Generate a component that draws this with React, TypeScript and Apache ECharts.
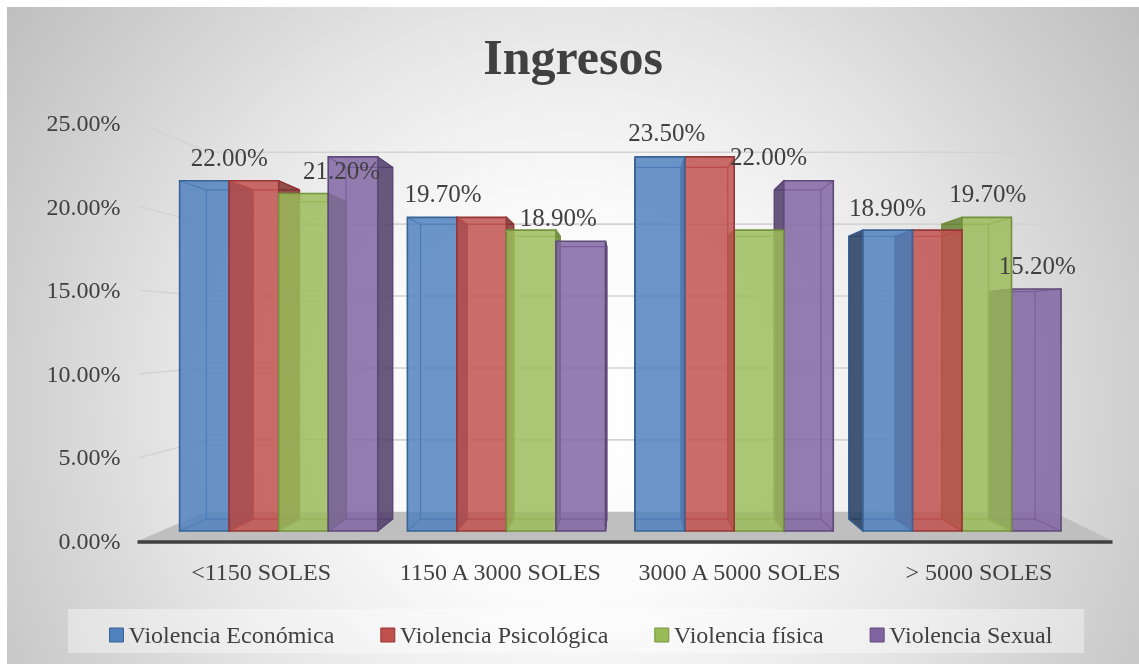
import React, { useEffect, useRef } from "react";
import * as echarts from "echarts";

// ---------- data ----------
const categories = ["<1150 SOLES", "1150 A 3000 SOLES", "3000 A 5000 SOLES", "> 5000 SOLES"];
const seriesNames = ["Violencia Económica", "Violencia Psicológica", "Violencia física", "Violencia Sexual"];
const economica = [22.0, 19.7, 23.5, 18.9];
const psicologica = [22.0, 19.7, 23.5, 18.9];
const fisica = [21.2, 18.9, 18.9, 19.7];
const sexual = [23.5, 18.2, 22.0, 15.2];
const yTicks = [0, 5, 10, 15, 20, 25];
// data labels visible in the original (the others are hidden behind bars)
const labelShown = [
  [true, true, true, true],
  [false, false, false, false],
  [true, true, false, true],
  [false, false, true, true],
];

// ---------- styles ----------
const SERIES_VALUES = [economica, psicologica, fisica, sexual];
const COLORS = ["#4F81BD", "#C0504D", "#9BBB59", "#8064A2"];
const FILLS = ["rgba(79,129,189,0.84)", "rgba(192,80,77,0.84)", "rgba(155,187,89,0.84)", "rgba(128,100,162,0.84)"];
const BORDERS = ["#3A6396", "#953735", "#76923C", "#5F497A"];
const SIDES = ["rgba(35,60,95,0.85)", "rgba(120,40,38,0.8)", "rgba(95,125,45,0.8)", "rgba(80,60,105,0.85)"];
// label shift [dx, dy] relative to bar top center (Excel's placement)
const LABEL_SHIFT = [
  [[25, -23], [11, -24], [7, -24], [0, -23]],
  [[0, -24], [0, -24], [0, -24], [0, -24]],
  [[38, -23], [27, -13], [0, -24], [1, -24]],
  [[0, -24], [0, -24], [-40, -24], [1, -24]],
];
const VP_X = 0.507; // vanishing point (fraction of grid)
const VP_Y = 0.5;
const K_FRONT = 0.952;
const K_BACK = 0.895;
const K_WALL = 0.86;
const BAR_FRAC = 0.2175;
const TEXT = "#404040";
const FONT = "Liberation Serif";

function vp(cs: any) {
  return [cs.x + cs.width * VP_X, cs.y + cs.height * VP_Y];
}
function projector(cs: any) {
  const [VX, VY] = vp(cs);
  return (x: number, y: number, k: number) => [VX + k * (x - VX), VY + k * (y - VY)];
}

function wallRender(params: any, api: any) {
  const cs = params.coordSys;
  const proj = projector(cs);
  const y = api.coord([0, api.value(1)])[1];
  const xL = cs.x - 2;
  const xR = cs.x + cs.width + 13;
  const bl = proj(xL, y, K_WALL);
  const br = proj(xR, y, K_WALL);
  return {
    type: "polyline",
    shape: { points: [[xL, y], bl, br] },
    style: { stroke: "#d3d3d3", lineWidth: 1.6, fill: "none" },
  };
}

function floorRender(params: any, api: any) {
  const cs = params.coordSys;
  const proj = projector(cs);
  const y = api.coord([0, 0])[1];
  const xL = cs.x - 4;
  const xR = cs.x + cs.width + 14;
  const bl = proj(xL, y, K_WALL);
  const br = proj(xR + 10, y, K_WALL);
  return {
    type: "group",
    children: [
      { type: "polygon", shape: { points: [[xL, y], [xR, y], br, bl] }, style: { fill: "#bfbfbf" } },
      { type: "line", shape: { x1: xL, y1: y + 1, x2: xR, y2: y + 1 }, style: { stroke: "#404040", lineWidth: 3.5 } },
    ],
  };
}

function makeBarRender(s: number) {
  return (params: any, api: any) => {
    const cs = params.coordSys;
    const [VX] = vp(cs);
    const proj = projector(cs);
    const i = api.value(0);
    const v = api.value(1);
    const top = api.coord([i, v]);
    const base = api.coord([i, 0]);
    const band = api.size([1, 0])[0];
    const bw = band * BAR_FRAC;
    const xl = top[0] - 2 * bw + s * bw;
    const xr = xl + bw;
    const yt = top[1];
    const yb = base[1];
    const F = { tl: proj(xl, yt, K_FRONT), tr: proj(xr, yt, K_FRONT), br: proj(xr, yb, K_FRONT), bl: proj(xl, yb, K_FRONT) };
    const B = { tl: proj(xl, yt, K_BACK), tr: proj(xr, yt, K_BACK), br: proj(xr, yb, K_BACK), bl: proj(xl, yb, K_BACK) };
    // painter's order: bars farther from the eye (horizontally) are drawn first
    const rightOfEye = F.tl[0] > VX;
    const zb = (rightOfEye ? 3 - s : s) * 10;
    const edge = { stroke: BORDERS[s], lineWidth: 1.2, fill: "none" };
    const children: any[] = [
      { type: "polyline", z2: zb, shape: { points: [B.tl, B.tr, B.br, B.bl, B.tl] }, style: edge },
      { type: "line", z2: zb, shape: { x1: F.tl[0], y1: F.tl[1], x2: B.tl[0], y2: B.tl[1] }, style: edge },
      { type: "line", z2: zb, shape: { x1: F.tr[0], y1: F.tr[1], x2: B.tr[0], y2: B.tr[1] }, style: edge },
      { type: "line", z2: zb, shape: { x1: F.bl[0], y1: F.bl[1], x2: B.bl[0], y2: B.bl[1] }, style: edge },
      { type: "line", z2: zb, shape: { x1: F.br[0], y1: F.br[1], x2: B.br[0], y2: B.br[1] }, style: edge },
    ];
    let side: number[][] | null = null;
    if (F.tr[0] < VX) side = [F.tr, B.tr, B.br, F.br];
    else if (rightOfEye) side = [F.tl, B.tl, B.bl, F.bl];
    if (side) {
      children.push({ type: "polygon", z2: zb + 1, shape: { points: side }, style: { fill: SIDES[s], stroke: BORDERS[s], lineWidth: 1.2 } });
    }
    children.push({
      type: "rect",
      z2: zb + 2,
      shape: { x: F.tl[0], y: F.tl[1], width: F.tr[0] - F.tl[0], height: F.bl[1] - F.tl[1] },
      style: { fill: FILLS[s], stroke: BORDERS[s], lineWidth: 1.6 },
    });
    if (labelShown[s][i]) {
      const sh = LABEL_SHIFT[s][i];
      children.push({
        type: "text",
        z2: 100,
        style: {
          text: v.toFixed(2) + "%",
          x: (F.tl[0] + F.tr[0]) / 2 + sh[0],
          y: F.tl[1] + sh[1],
          align: "center",
          verticalAlign: "middle",
          fontSize: 25,
          fontFamily: FONT,
          fill: TEXT,
        },
      });
    }
    return { type: "group", children };
  };
}

export default function App() {
  const ref = useRef<HTMLDivElement>(null);
  useEffect(() => {
    if (!ref.current) return;
    const chart = echarts.init(ref.current, undefined, { renderer: "svg" });
    const option: any = {
      animation: false,
      graphic: [
        {
          type: "rect",
          z: -10,
          silent: true,
          shape: { x: 0, y: 0, width: 1132, height: 657 },
          style: {
            fill: new echarts.graphic.RadialGradient(566, 400, 690, [
              { offset: 0, color: "#ffffff" },
              { offset: 0.3, color: "#fafafa" },
              { offset: 0.57, color: "#e6e6e6" },
              { offset: 0.82, color: "#cfcfcf" },
              { offset: 1, color: "#bfbfbf" },
            ], true),
          },
        },
        {
          type: "rect",
          z: -5,
          silent: true,
          shape: { x: 61, y: 602, width: 1016, height: 44 },
          style: { fill: "rgba(255,255,255,0.38)" },
        },
      ],
      title: {
        text: "Ingresos",
        left: "center",
        top: 20,
        textStyle: { fontSize: 50, fontWeight: "bold", fontFamily: FONT, color: TEXT },
      },
      legend: {
        data: seriesNames.map((n, s) => ({ name: n, itemStyle: { color: COLORS[s], borderColor: BORDERS[s], borderWidth: 1 } })),
        left: 97,
        top: 611,
        icon: "rect",
        itemWidth: 14,
        itemHeight: 14,
        itemGap: 46,
        textStyle: { fontSize: 24, fontFamily: FONT, color: TEXT },
      },
      grid: { left: 134.5, right: 40.5, top: 116, bottom: 123 },
      xAxis: {
        type: "category",
        data: categories,
        axisLine: { show: false },
        axisTick: { show: false },
        axisLabel: { interval: 0, fontSize: 24, fontFamily: FONT, color: TEXT, margin: 19 },
      },
      yAxis: {
        type: "value",
        min: 0,
        max: 25,
        interval: 5,
        axisLine: { show: false },
        axisTick: { show: false },
        splitLine: { show: false },
        axisLabel: { fontSize: 24, fontFamily: FONT, color: TEXT, margin: 21, formatter: (v: number) => v.toFixed(2) + "%" },
      },
      series: [
        {
          type: "custom",
          name: "walls",
          z: 1,
          silent: true,
          renderItem: wallRender,
          data: yTicks.filter((t) => t > 0).map((t) => [0, t]),
        },
        {
          type: "custom",
          name: "floor",
          z: 1,
          silent: true,
          renderItem: floorRender,
          data: [[0, 0]],
        },
        ...seriesNames.map((name, s) => ({
          type: "custom",
          name,
          z: 2,
          renderItem: makeBarRender(s),
          itemStyle: { color: COLORS[s] },
          encode: { x: 0, y: 1 },
          data: SERIES_VALUES[s].map((v, i) => [i, v]),
        })),
      ],
    };
    chart.setOption(option);
    return () => chart.dispose();
  }, []);
  return <div ref={ref} style={{ position: "fixed", left: 7, top: 7, width: 1132, height: 657 }} />;
}
